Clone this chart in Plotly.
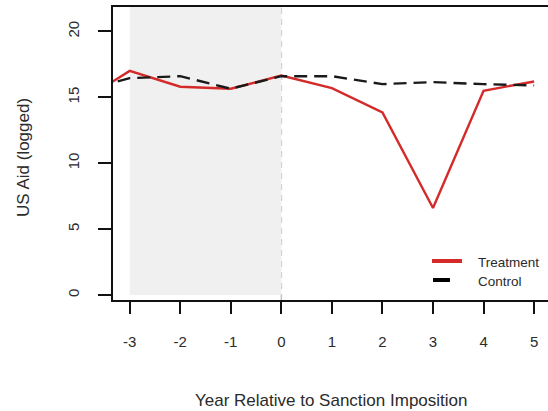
import plotly.graph_objects as go

# ---- data ----
years = [-4, -3, -2, -1, 0, 1, 2, 3, 4, 5]
treatment = [14.6, 17.0, 15.8, 15.65, 16.65, 15.7, 13.85, 6.6, 15.5, 16.2]
control = [15.4, 16.45, 16.6, 15.65, 16.6, 16.6, 16.0, 16.15, 16.0, 15.9]
series_names = ["Treatment", "Control"]
x_ticks = [-3, -2, -1, 0, 1, 2, 3, 4, 5]
y_ticks = [0, 5, 10, 15, 20]
pre_period = [-3, 0]
sanction_year = 0

RED = "#d42a2a"
TXT = "#2b2b2b"
FONT = "Liberation Sans, Arial, sans-serif"

W, H = 548, 411
ML, MR, MT, MB = 113, 0, 7, 111
PW, PH = W - ML - MR, H - MT - MB


def px_x(p):
    return (p - ML) / PW


def px_y(p):
    return (H - MB - p) / PH


fig = go.Figure()
fig.add_trace(go.Scatter(x=years, y=treatment, mode="lines", name=series_names[0],
                         line=dict(color=RED, width=2.4), showlegend=False))
fig.add_trace(go.Scatter(x=years, y=control, mode="lines", name=series_names[1],
                         line=dict(color="#1a1a1a", width=2.4, dash="13px,7px"),
                         showlegend=False))

shapes = [
    dict(type="rect", xref="x", yref="y", x0=pre_period[0], x1=pre_period[1],
         y0=0, y1=30, fillcolor="#f0f0f0", line=dict(width=0), layer="below"),
    dict(type="line", xref="x", yref="paper", x0=sanction_year, x1=sanction_year,
         y0=0, y1=1, line=dict(color="#c4c4c4", width=1.6, dash="6px,5px"), layer="below"),
    # legend samples
    dict(type="line", xref="paper", yref="paper", x0=px_x(432), x1=px_x(462),
         y0=px_y(261), y1=px_y(261), line=dict(color=RED, width=4)),
    dict(type="line", xref="paper", yref="paper", x0=px_x(433), x1=px_x(450),
         y0=px_y(280), y1=px_y(280), line=dict(color="#000000", width=4)),
]

annotations = [
    dict(text=series_names[0], xref="paper", yref="paper", x=px_x(476), y=px_y(262.5),
         xanchor="left", yanchor="middle", showarrow=False,
         font=dict(size=13.5, color=TXT, family=FONT)),
    dict(text=series_names[1], xref="paper", yref="paper", x=px_x(476), y=px_y(281.5),
         xanchor="left", yanchor="middle", showarrow=False,
         font=dict(size=13.5, color=TXT, family=FONT)),
    dict(text="Year Relative to Sanction Imposition", xref="paper", yref="paper",
         x=0.5, y=px_y(400), xanchor="center", yanchor="middle", showarrow=False,
         font=dict(size=17, color=TXT, family=FONT)),
    dict(text="US Aid (logged)", xref="paper", yref="paper", x=px_x(23), y=px_y(158),
         xanchor="center", yanchor="middle", textangle=-90, showarrow=False,
         font=dict(size=17, color=TXT, family=FONT)),
]

fig.update_layout(
    width=W, height=H,
    margin=dict(l=ML, r=MR, t=MT, b=MB, autoexpand=False),
    paper_bgcolor="white", plot_bgcolor="white",
    shapes=shapes, annotations=annotations,
    font=dict(family=FONT, color=TXT),
    showlegend=False,
)
fig.update_xaxes(range=[-3.33, 5.275], tickvals=x_ticks, ticktext=[str(v) for v in x_ticks],
                 ticks="outside", ticklen=12, tickwidth=2, tickcolor="#111",
                 showline=True, linewidth=2, linecolor="#111", mirror=True,
                 showgrid=False, zeroline=False, ticklabelstandoff=15,
                 tickfont=dict(size=15, color=TXT, family=FONT))
fig.update_yaxes(range=[-0.38, 21.85], tickvals=y_ticks, ticktext=[str(v) for v in y_ticks],
                 ticks="outside", ticklen=13, tickwidth=2, tickcolor="#111",
                 showline=True, linewidth=2, linecolor="#111", mirror=False,
                 showgrid=False, zeroline=False, tickangle=-90, ticklabelstandoff=13,
                 tickfont=dict(size=15, color=TXT, family=FONT))

fig.write_html("out.html")
